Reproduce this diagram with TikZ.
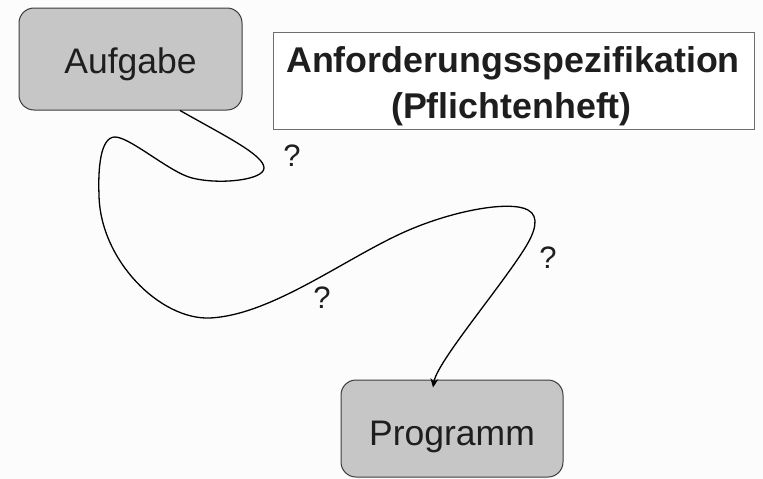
\documentclass[tikz,border=0pt]{standalone}
\usepackage{fontspec}
\setmainfont{Liberation Sans}
\usetikzlibrary{arrows.meta}
\definecolor{bg}{RGB}{252,252,252}
\definecolor{boxfill}{RGB}{198,198,198}
\definecolor{boxline}{RGB}{60,60,60}
\definecolor{specline}{RGB}{110,110,110}
\definecolor{ink}{RGB}{30,30,30}
\tikzset{
  graybox/.style={draw=boxline, line width=1pt, fill=boxfill, rounded corners=15pt,
    minimum width=223pt, minimum height=102pt, inner sep=0pt, text=ink,
    font=\fontsize{35.5}{40}\selectfont},
  specbox/.style={draw=specline, line width=1pt, fill=white,
    minimum width=481pt, minimum height=97pt, inner sep=0pt},
  spectext/.style={anchor=base, inner sep=0pt, text=ink,
    font=\fontsize{35.8}{46}\selectfont\bfseries},
  qmark/.style={anchor=base, inner sep=0pt, text=ink, font=\fontsize{31}{36}\selectfont},
  conn/.style={draw=black, line width=1.3pt, -{Stealth[length=9pt,width=8pt,inset=3pt]}}
}
\begin{document}
\begin{tikzpicture}[x=1pt,y=-1pt]
  \fill[bg] (0,0) rectangle (763,479);
  \useasboundingbox (0,0) rectangle (763,479);
  \node[graybox, text height=29pt, text depth=1pt] (a) at (130.5,59) {Aufgabe};
  \node[graybox, minimum width=222pt, minimum height=97pt, text height=33pt, text depth=0pt] (p) at (452,428.5) {Programm};
  \node[specbox] (s) at (513.5,80.5) {};
  \node[spectext] (s1) at (513,72) {Anforderungsspezifikation};
  \node[spectext] (s2) at (511.5,118) {(Pflichtenheft)};
  \node[qmark] (q1) at (292,166) {?};
  \node[qmark] (q2) at (548,268) {?};
  \node[qmark] (q3) at (322,308) {?};
  \draw[conn] ([xshift=49.5pt]a.south)
    .. controls (225,136) and (264,155) .. (264,168)
    .. controls (264,180) and (220,185) .. (192,178)
    .. controls (170,172.5) and (130,137) .. (115,137)
    .. controls (100,137) and (98,170) .. (99,195)
    .. controls (100,260) and (160,320) .. (210,318)
    .. controls (270,315) and (340,262) .. (400,234)
    .. controls (450,210.7) and (510,200) .. (528,210)
    .. controls (540,216.5) and (535,232) .. (525,248)
    .. controls (500,288) and (437,362) .. ([xshift=-19pt,yshift=-8pt]p.north);
\end{tikzpicture}
\end{document}
